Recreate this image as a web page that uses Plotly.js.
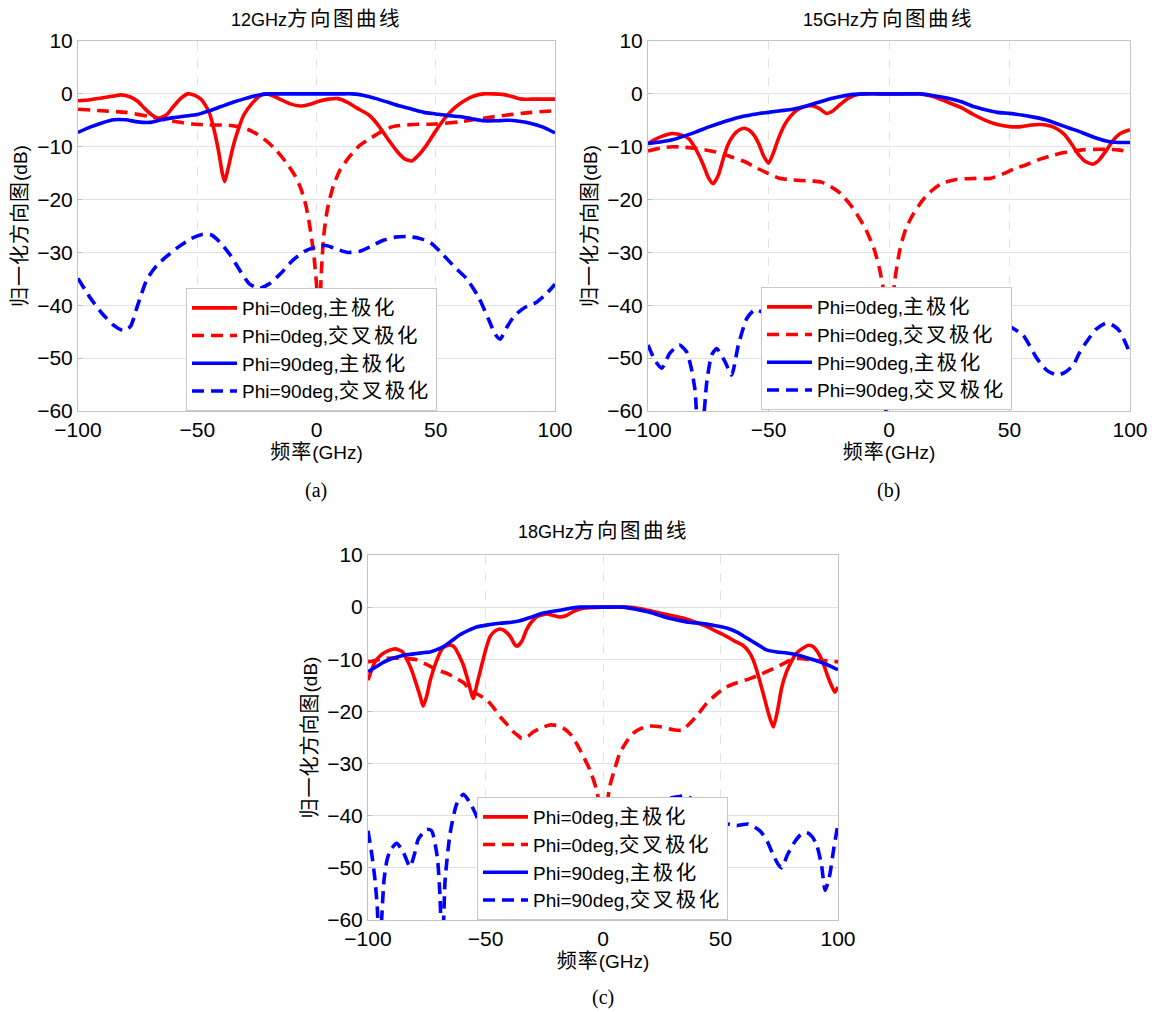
<!DOCTYPE html>
<html>
<head>
<meta charset="utf-8">
<script src="https://cdn.plot.ly/plotly-3.0.1.min.js"></script>
<style>html,body{margin:0;padding:0;background:#fff;}#chart{width:1160px;height:1012px;}</style>
</head>
<body>
<div id="chart"></div>
<script>
// ---------- labels ----------
const TITLES = ['12GHz方向图曲线', '15GHz方向图曲线', '18GHz方向图曲线'];
const CAPTIONS = ['(a)', '(b)', '(c)'];
const SERIES_NAMES = ['Phi=0deg,主极化', 'Phi=0deg,交叉极化', 'Phi=90deg,主极化', 'Phi=90deg,交叉极化'];
const X_TITLE = '频率(GHz)';
const Y_TITLE = '归一化方向图(dB)';
const X_TICKS = [-100, -50, 0, 50, 100];
const Y_TICKS = [-60, -50, -40, -30, -20, -10, 0, 10];

// ---------- (a) 12 GHz ----------
const A_CO0_X = [-100,-95,-90,-85,-82,-78,-75,-72,-69,-66,-63,-60,-57,-54,-51,-48,-45,-43,-41,-39.5,-38.5,-37,-35,-33,-30.5,-27,-23.5,-21,-18,-15,-11,-7,-3,1,5,9,13,17,22,26,30,34,37,40,43,46,50,54,58,62,66,70,74,78,82,86,90,95,100];
const A_CO0_Y = [-1.3,-1.1,-0.8,-0.4,-0.2,-0.6,-1.4,-2.8,-4.0,-4.6,-4.0,-2.4,-0.9,0,-0.3,-1.2,-3.5,-6.7,-11,-15,-16.6,-14,-10,-7,-4,-1.8,-0.3,0,-0.4,-1.1,-1.9,-2.3,-2.0,-1.4,-1.0,-0.9,-1.6,-2.7,-4.0,-6.0,-8.6,-11,-12.3,-12.7,-11.5,-9.8,-7.0,-4.5,-2.6,-1.3,-0.4,0,0,-0.1,-0.5,-1,-1,-1,-1];
const A_X0_X = [-100,-90,-80,-70,-60,-52,-45,-38,-33,-29,-25,-21,-17,-12.5,-9,-6.5,-4.5,-3,-2,-1,0,1,2,3,4.5,7,10,14,18,22,27,32,40,50,60,70,80,90,100];
const A_X0_Y = [-2.9,-3.2,-3.5,-4.3,-5.2,-5.7,-5.9,-5.9,-6.2,-6.7,-7.6,-8.9,-10.6,-13.1,-15.5,-18,-21,-24.5,-27.5,-31,-36,-45,-34,-27,-22,-17.5,-14.3,-11.8,-9.8,-8.6,-7.2,-6.2,-5.8,-5.7,-5.3,-4.6,-4,-3.5,-3.2];
const A_CO90_X = [-100,-95,-90,-85,-80,-75,-70,-65,-60,-55,-50,-45,-40,-35,-30,-25,-20,-15,-10,0,10,15,20,25,30,35,40,45,50,55,60,65,70,75,80,85,90,95,100];
const A_CO90_Y = [-7.3,-6.3,-5.5,-4.9,-4.9,-5.3,-5.4,-4.9,-4.5,-4.2,-3.9,-3.2,-2.4,-1.6,-0.9,-0.3,0,0,0,0,0,0,-0.3,-0.9,-1.6,-2.3,-2.9,-3.5,-3.8,-4.1,-4.3,-4.7,-5.1,-5.1,-5.0,-5.2,-5.6,-6.3,-7.4];
const A_X90_X = [-100,-95,-90,-85,-81,-78,-75,-71,-67,-63,-58,-53,-48,-44,-40,-36,-32,-28,-24,-20,-15,-10,-5,0,4,8,13,18,23,28,33,38,43,48,53,58,63,68,72,75,77,80,83,87,92,96,100];
const A_X90_Y = [-34.9,-38.5,-41.5,-43.8,-44.8,-44,-40,-35,-32.5,-30.8,-29,-27.5,-26.6,-26.7,-28.3,-30.6,-33.5,-36,-36.8,-36,-34,-31.5,-29.8,-28.9,-28.7,-29.3,-30,-29.8,-28.8,-27.7,-27.1,-27,-27.3,-28.2,-30.4,-32.8,-35,-38.5,-42.5,-45.5,-46.4,-44,-42,-40.5,-39.5,-38,-36];

// ---------- (b) 15 GHz ----------
const B_CO0_X = [-100,-97,-94,-90,-86,-83,-80,-77,-75,-73,-71,-69,-67,-64.5,-62,-60,-58,-56,-54,-52,-50,-48,-46,-43.5,-41,-38,-35,-31.5,-28.5,-26,-23.5,-20.5,-17.5,-14.5,-11,-5,0,5,13,19,24,30,35,40,45,50,55,59,63,67,70,73,76.5,79,81.5,84.5,87,90,93,96,100];
const B_CO0_Y = [-9.4,-8.6,-8,-7.5,-7.8,-8.5,-10.6,-13.5,-15.8,-17,-15.6,-12.6,-9.8,-7.8,-6.8,-6.5,-6.9,-7.8,-9.5,-11.8,-13.1,-11.2,-8.6,-6,-4.3,-3,-2.4,-2.3,-2.9,-3.7,-3.3,-2.1,-1,-0.3,0,0,0,0,0,-0.6,-1.5,-2.6,-3.9,-5,-5.8,-6.2,-6.2,-5.9,-5.8,-6.1,-6.7,-7.8,-10,-11.7,-12.8,-13.3,-12.6,-10.8,-8.8,-7.5,-6.8];
const B_X0_X = [-100,-95,-90,-85,-80,-75,-70,-65,-60,-55,-50,-46,-42,-37,-32,-28,-24,-20,-16,-13,-10,-8,-6,-4,-2.5,-1,0,1,2.5,4.5,7,10,14,18,22,28,35,42,47,52,57,63,68,74,80,85,90,95,100];
const B_X0_Y = [-10.8,-10.3,-10,-10.1,-10.3,-10.7,-11.2,-12,-12.8,-14,-15.1,-15.9,-16.2,-16.4,-16.5,-16.7,-17.6,-18.9,-21,-23,-25.3,-27.3,-29.6,-33,-36.5,-42,-48,-42,-35,-29.5,-25.5,-22.8,-20.1,-18.2,-16.9,-16.2,-16,-16,-15.2,-14.2,-13.4,-12.3,-11.6,-11,-10.6,-10.5,-10.5,-10.6,-11];
const B_CO90_X = [-100,-95,-90,-85,-80,-75,-70,-65,-60,-55,-50,-45,-40,-35,-30,-25,-20,-15,-10,0,10,13,18,24,30,35,40,45,50,55,60,65,70,75,80,85,90,95,100];
const B_CO90_Y = [-9.4,-9.1,-8.7,-8,-7.2,-6.3,-5.5,-4.8,-4.2,-3.8,-3.5,-3.2,-2.9,-2.4,-1.7,-1,-0.5,-0.1,0,0,0,0,-0.3,-0.8,-1.5,-2.4,-3,-3.5,-3.7,-4,-4.4,-4.9,-5.7,-6.5,-7.3,-8.2,-8.9,-9.2,-9.2];
const B_X90_X = [-100,-97,-94.3,-91,-87,-84,-82,-80.5,-79,-77.5,-75.6,-73.6,-71.5,-68,-65.3,-62.5,-59,-55.6,-52,-48,-44,-40,-35,-30,-25,-20,-15,-10,-6,-4,-2.6,-1,1,4,8,14,20,28,36,44,50,55.7,61.3,65.5,69.6,73,76.5,79,82,86,90.3,93,95.9,98,100];
const B_X90_Y = [-47.5,-50.5,-51.9,-49.1,-47.5,-48.8,-52,-56,-64,-63,-54.5,-49.4,-48.2,-50.7,-53.2,-47.5,-42.5,-40.8,-41.5,-44,-48,-46,-43,-45,-49,-46,-44,-48,-54,-59,-70,-58,-51,-46,-44,-43,-45,-44,-42,-43,-44,-45.7,-50,-52.3,-53.2,-52.7,-51.3,-49,-46.9,-44.5,-43.3,-43.8,-45,-47,-49.1];

// ---------- (c) 18 GHz ----------
const C_CO0_X = [-100,-97,-94,-91,-88.5,-85.5,-83.5,-81.5,-80,-78,-76.5,-75,-73.5,-71,-68.5,-66.5,-64.5,-63,-61,-59.5,-57.5,-55.2,-53.5,-51.5,-49.5,-48,-46,-44,-42,-39.5,-37.5,-36.5,-34.5,-32.5,-30.5,-28,-24,-21,-18.5,-15.5,-12.5,-8.5,0,10,16,21,28,34,40,44,48,52.5,56,59.5,62,64,66,68.2,70.5,72.5,74.2,76,78,80.3,82,84,87.4,89.5,91.6,93.5,95.2,97,98.7,100];
const C_CO0_Y = [-14,-10.5,-9,-8.3,-8,-8.5,-10,-12,-14,-16.8,-19,-17,-14,-10.5,-8,-7.4,-7.3,-7.8,-9.5,-11,-14,-17.5,-14.5,-10.9,-7.5,-5.6,-4.6,-4.2,-4.5,-5.6,-7.2,-7.5,-6.5,-4.3,-2.9,-1.8,-1.3,-1.6,-1.9,-1.6,-0.8,-0.2,0,0,-0.3,-0.8,-1.5,-2.1,-3,-3.7,-4.6,-5.6,-6.5,-7.3,-8.5,-10.2,-13,-16.6,-20.5,-23,-20,-15.5,-12.5,-10.3,-9,-8.2,-7.3,-7.6,-8.8,-10.5,-12.7,-14.8,-16.3,-15.3];
const C_X0_X = [-100,-92,-85,-79.3,-75,-70.8,-66,-62.3,-59,-56.6,-53,-49.5,-46.5,-43.8,-41,-38.2,-36,-34.6,-32,-29.6,-26,-22.6,-19.5,-16.9,-14,-11.2,-8.5,-5.5,-2.7,-1.5,0,1.5,2.8,5,7.1,10,12.8,16,19.9,25,29.8,33.5,36.9,40.5,44,48,52.6,57,62.5,67.5,72.5,77,81,85,89.5,95,100];
const C_X0_Y = [-10.5,-9.8,-9.8,-10.1,-11,-12,-12.8,-13.7,-14.6,-15.9,-16.8,-17.8,-19.3,-21,-22.4,-23.9,-24.7,-25.2,-24.8,-23.9,-23.1,-22.6,-22.7,-23.2,-24.3,-26.2,-28.5,-31.3,-35.1,-38,-44,-39,-34.5,-31,-28.1,-25.8,-24.2,-23.3,-22.8,-23,-23.5,-23.6,-22.3,-20.5,-18.5,-16.8,-15.3,-14.5,-13.7,-12.8,-11.8,-10.8,-9.9,-9.9,-10.2,-10.3,-10.5];
const C_CO90_X = [-100,-96,-93.5,-90,-86.4,-83,-79.3,-76,-73.6,-71,-68,-64.5,-60.9,-57,-53.8,-49,-43.8,-39,-35.3,-31,-26.8,-22.5,-18.3,-14,-9.8,0,8.5,14,19,23,27,32,36.5,41.3,47,52.6,57,61.1,65.5,69.6,74,78.2,82,86.7,91,95.2,98,100];
const C_CO90_Y = [-12.4,-11.3,-10.6,-9.9,-9.4,-9.1,-8.9,-8.7,-8.6,-8.2,-7.6,-6.5,-5.3,-4.4,-3.8,-3.4,-3.1,-2.9,-2.6,-2.0,-1.3,-0.9,-0.6,-0.2,0,0,0,-0.4,-0.9,-1.4,-2.0,-2.5,-2.9,-3.1,-3.5,-4,-4.8,-5.9,-7.1,-8.2,-8.6,-8.8,-9.1,-9.7,-10.3,-11,-11.6,-12];
const C_X90_X = [-100,-98.5,-97,-96,-95.2,-94.2,-93.2,-92,-90.6,-87.8,-85,-82.1,-80.3,-78.6,-75,-72.9,-70.5,-69.3,-68.6,-67.8,-67.2,-65.1,-62.3,-59.4,-55.9,-52,-48,-44,-41,-38,-34,-29,-24,-19,-15.5,-13.3,-11,-7,-3,1,5,8,11,15,20,26,31,35.6,40,45,50,56.9,61.9,66.8,70,72.5,74.5,76,78.5,81,84,86.7,89,91,93,94.5,95.6,96.6,98.3,100];
const C_X90_Y = [-42.9,-47,-52.4,-58,-68,-60,-52.4,-48.7,-46.7,-45.3,-47,-49.8,-47.5,-44.5,-42.6,-42.9,-48,-56,-68,-60,-52.4,-43.5,-37.8,-35.9,-38.1,-42,-47,-54,-62,-55,-48,-45,-47,-52,-58,-68,-58,-50,-46,-45,-52,-66,-55,-46,-40,-37,-36.4,-36.2,-37.5,-39.5,-41.2,-41.9,-41.6,-42.9,-45,-47.6,-49.3,-50,-47.5,-45.4,-43.7,-43.2,-44,-45.7,-49.5,-54.3,-53,-51.1,-46,-41.6];

// ---------- helpers ----------
// wrap runs of CJK characters so they get the wide look of the original figure
function cjk(s, size, ls) {
  return s.replace(/([\u3400-\u9fff]+)/g,
    '<span style="font-size:' + size + 'px;letter-spacing:' + ls + 'px">$1</span>');
}

// ---------- build ----------
const PANELS = [
  {xa:'x',  ya:'y',  lg:'legend',  s:[[A_CO0_X,A_CO0_Y],[A_X0_X,A_X0_Y],[A_CO90_X,A_CO90_Y],[A_X90_X,A_X90_Y]]},
  {xa:'x2', ya:'y2', lg:'legend2', s:[[B_CO0_X,B_CO0_Y],[B_X0_X,B_X0_Y],[B_CO90_X,B_CO90_Y],[B_X90_X,B_X90_Y]]},
  {xa:'x3', ya:'y3', lg:'legend3', s:[[C_CO0_X,C_CO0_Y],[C_X0_X,C_X0_Y],[C_CO90_X,C_CO90_Y],[C_X90_X,C_X90_Y]]}
];
const COLORS = ['#ff0000', '#ff0000', '#0000ff', '#0000ff'];
const DASHES = ['solid', '12px,7px', 'solid', '12px,7px'];

const traces = [];
PANELS.forEach(p => {
  p.s.forEach((xy, i) => {
    traces.push({
      x: xy[0], y: xy[1], xaxis: p.xa, yaxis: p.ya, legend: p.lg,
      type: 'scatter', mode: 'lines', name: cjk(SERIES_NAMES[i], 20.5, 2.5),
      line: {color: COLORS[i], width: 3.6, dash: DASHES[i], shape: 'spline', smoothing: 0.6},
      hoverinfo: 'skip'
    });
  });
});

const W = 1160, H = 1012;
const px = v => v / W;
const py = v => 1 - v / H;
const FONT = 'Liberation Sans, Arial, Noto Sans CJK SC, sans-serif';

function xaxis(l, r, anchor) {
  return {
    domain: [px(l), px(r)], anchor: anchor, range: [-100, 100], tickvals: X_TICKS,
    showgrid: true, gridcolor: '#e2e2e2', griddash: 'dash', zeroline: false,
    showline: true, mirror: true, linecolor: '#c4c4c4', linewidth: 1,
    ticks: 'inside', ticklen: 4, tickcolor: '#bbbbbb',
    tickfont: {family: FONT, size: 21, color: '#000'},
    title: {text: cjk(X_TITLE, 20, 1), font: {family: FONT, size: 19, color: '#000'}, standoff: 4}
  };
}
function yaxis(t, b, anchor) {
  return {
    domain: [py(b), py(t)], anchor: anchor, range: [-60, 10], tickvals: Y_TICKS,
    showgrid: true, gridcolor: '#e2e2e2', zeroline: false,
    showline: true, mirror: true, linecolor: '#c4c4c4', linewidth: 1,
    ticks: 'inside', ticklen: 4, tickcolor: '#bbbbbb',
    tickfont: {family: FONT, size: 21, color: '#000'},
    title: {text: cjk(Y_TITLE, 20, 1), font: {family: FONT, size: 19, color: '#000'}, standoff: 4}
  };
}
function legend(l, t) {
  return {
    x: px(l), y: py(t), xanchor: 'left', yanchor: 'top',
    bgcolor: '#ffffff', bordercolor: '#c8c8c8', borderwidth: 1,
    itemwidth: 45,
    font: {family: FONT, size: 19, color: '#000'}
  };
}

const annotations = [];
const titlePos = [[316, 18], [888, 18], [603, 530]];
const capPos = [[316, 490], [888, 490], [603, 997]];
for (let i = 0; i < 3; i++) {
  annotations.push({xref:'paper', yref:'paper', x: px(titlePos[i][0]), y: py(titlePos[i][1]),
    xanchor:'center', yanchor:'middle', showarrow:false, text: cjk(TITLES[i], 20.5, 2.5),
    font:{family: FONT, size: 18, color:'#000'}});
  annotations.push({xref:'paper', yref:'paper', x: px(capPos[i][0]), y: py(capPos[i][1]),
    xanchor:'center', yanchor:'middle', showarrow:false, text: CAPTIONS[i],
    font:{family:'Liberation Serif, Times New Roman, serif', size: 20, color:'#000'}});
}

const layout = {
  width: W, height: H, margin: {l:0, r:0, t:0, b:0},
  paper_bgcolor: '#ffffff', plot_bgcolor: '#ffffff',
  showlegend: true,
  xaxis: xaxis(78, 555, 'y'),   yaxis: yaxis(41, 411, 'x'),
  xaxis2: xaxis(648, 1130, 'y2'), yaxis2: yaxis(41, 411, 'x2'),
  xaxis3: xaxis(368, 838, 'y3'), yaxis3: yaxis(555, 920, 'x3'),
  legend: legend(186, 288), legend2: legend(761, 287), legend3: legend(477, 797),
  annotations: annotations
};

Plotly.newPlot('chart', traces, layout, {displayModeBar: false, staticPlot: true});
</script>
</body>
</html>
